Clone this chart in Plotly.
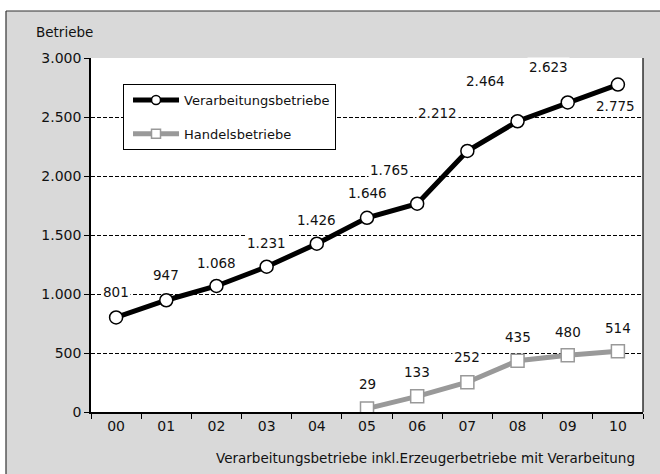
import plotly.graph_objects as go

years = ["00", "01", "02", "03", "04", "05", "06", "07", "08", "09", "10"]
verarbeitung = [801, 947, 1068, 1231, 1426, 1646, 1765, 2212, 2464, 2623, 2775]
handel_years = ["05", "06", "07", "08", "09", "10"]
handel = [29, 133, 252, 435, 480, 514]

def fmt(v):
    return f"{v:,}".replace(",", ".")

# label offsets in px (style only)
v_off = [(0, 25), (0, 25), (0, 23), (0, 24), (0, 24), (0, 25),
         (-28, 34), (-30, 38), (-32, 40), (-19, 35), (-2, -21)]
h_off = [(0, 25), (0, 24), (0, 25), (0, 24), (0, 23), (0, 23)]

FONT = "DejaVu Sans, Arial, sans-serif"
TXT = "#111111"
GRAY = "#999999"

fig = go.Figure()
fig.add_trace(go.Scatter(
    x=years, y=verarbeitung, name="Verarbeitungsbetriebe", mode="lines+markers",
    line=dict(color="black", width=5),
    marker=dict(symbol="circle", size=13, color="white", line=dict(color="black", width=1.5)),
    showlegend=False,
))
fig.add_trace(go.Scatter(
    x=handel_years, y=handel, name="Handelsbetriebe", mode="lines+markers",
    line=dict(color=GRAY, width=5),
    marker=dict(symbol="square", size=13, color="white", line=dict(color=GRAY, width=1.5)),
    showlegend=False,
))
# legend entries (smaller symbols, like the reference legend)
fig.add_trace(go.Scatter(
    x=[None], y=[None], name="Verarbeitungsbetriebe", mode="lines+markers",
    line=dict(color="black", width=5),
    marker=dict(symbol="circle", size=9, color="white", line=dict(color="black", width=1.5)),
    legendgroup="a",
))
fig.add_trace(go.Scatter(
    x=[None], y=[None], name="Handelsbetriebe", mode="lines+markers",
    line=dict(color=GRAY, width=5),
    marker=dict(symbol="square", size=9, color="white", line=dict(color=GRAY, width=1.5)),
    legendgroup="b",
))

ann = []
for x, v, (dx, dy) in zip(years, verarbeitung, v_off):
    ann.append(dict(x=x, y=v, text=fmt(v), showarrow=False, xshift=dx, yshift=dy,
                    bgcolor="white", borderpad=1, font=dict(size=13.5, color=TXT, family=FONT)))
for x, v, (dx, dy) in zip(handel_years, handel, h_off):
    ann.append(dict(x=x, y=v, text=fmt(v), showarrow=False, xshift=dx, yshift=dy,
                    bgcolor="white", borderpad=1, font=dict(size=13.5, color=TXT, family=FONT)))

ann.append(dict(xref="paper", yref="paper", x=-0.1033, y=1.0734, xanchor="left", yanchor="middle",
                text="Betriebe", showarrow=False, font=dict(size=13.5, color=TXT, family=FONT)))
ann.append(dict(xref="paper", yref="paper", x=0.989, y=-0.13, xanchor="right", yanchor="middle",
                text="Verarbeitungsbetriebe inkl.Erzeugerbetriebe mit Verarbeitung", showarrow=False,
                font=dict(size=13.5, color=TXT, family=FONT)))

shapes = [
    # white outside the frame (top and left)
    dict(type="rect", xref="paper", yref="paper", x0=-0.3, x1=1.3, y0=1.1328, y1=1.3,
         fillcolor="white", line=dict(width=0), layer="below"),
    dict(type="rect", xref="paper", yref="paper", x0=-0.3, x1=-0.154, y0=-0.3, y1=1.3,
         fillcolor="white", line=dict(width=0), layer="below"),
    # frame lines
    dict(type="line", xref="paper", yref="paper", x0=-0.154, x1=1.3, y0=1.1328, y1=1.1328,
         line=dict(color="#333", width=1.2)),
    dict(type="line", xref="paper", yref="paper", x0=-0.154, x1=-0.154, y0=-0.3, y1=1.1328,
         line=dict(color="#333", width=1.2)),
    # right border of plot area
    dict(type="line", xref="paper", yref="paper", x0=1, x1=1, y0=0, y1=1,
         line=dict(color="black", width=1.2)),
]

fig.update_layout(
    width=660, height=474,
    margin=dict(l=91, r=17, t=58, b=62),
    paper_bgcolor="#d9d9d9", plot_bgcolor="white",
    font=dict(family=FONT, size=14, color=TXT),
    showlegend=True,
    legend=dict(x=0.058, y=0.9266, xanchor="left", yanchor="top",
                bgcolor="white", bordercolor="black", borderwidth=1,
                font=dict(size=13, family=FONT, color=TXT), tracegroupgap=14,
                traceorder="grouped", itemwidth=46, indentation=4),
    annotations=ann, shapes=shapes,
    xaxis=dict(type="category", categoryorder="array", categoryarray=years,
               range=[-0.5, 10.5], showgrid=False, showline=True, linecolor="black", linewidth=1.5,
               ticks="outside", ticklen=5, tickcolor="black", tickson="boundaries",
               tickfont=dict(size=14, family=FONT, color=TXT), zeroline=False),
    yaxis=dict(range=[0, 3000], tickvals=[0, 500, 1000, 1500, 2000, 2500, 3000],
               ticktext=[fmt(v) for v in [0, 500, 1000, 1500, 2000, 2500, 3000]],
               showgrid=True, gridcolor="black", griddash="4px,2px", gridwidth=1,
               showline=True, linecolor="black", linewidth=1.5,
               ticks="outside", ticklen=5, tickcolor="black", zeroline=False,
               tickfont=dict(size=14, family=FONT, color=TXT)),
)

fig.write_html("out.html", post_script="document.body.style.margin='0';",
               config={"displayModeBar": False})
